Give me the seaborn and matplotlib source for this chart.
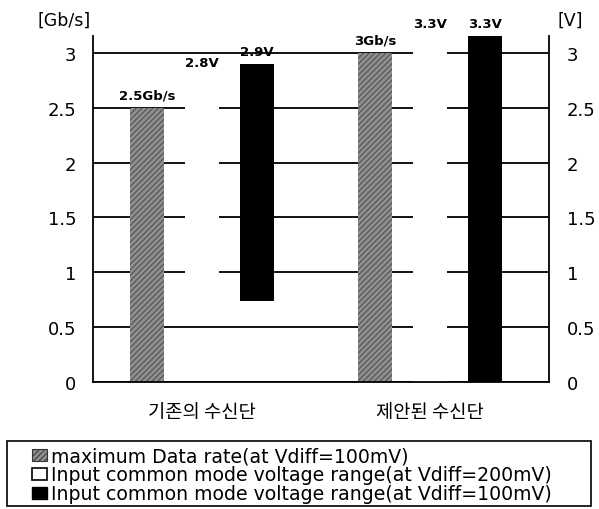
import numpy as np
import pandas as pd
import matplotlib
matplotlib.use("Agg")
import matplotlib.pyplot as plt
import seaborn as sns
from matplotlib.patches import Patch, Rectangle

# ---- data ----
categories = ["기존의 수신단", "제안된 수신단"]
series = ["maximum Data rate(at Vdiff=100mV)",
          "Input common mode voltage range(at Vdiff=200mV)",
          "Input common mode voltage range(at Vdiff=100mV)"]
data_rate_top = [2.5, 3.0]          # Gb/s
data_rate_bottom = [0.0, 0.0]
vcm200_top = [2.8, 3.3]              # V
vcm200_bottom = [0.74, 0.0]
vcm100_top = [2.9, 3.3]              # V
vcm100_bottom = [0.74, 0.0]
units = ["Gb/s", "V", "V"]
yticks = [0, 0.5, 1, 1.5, 2, 2.5, 3]

tops = [data_rate_top, vcm200_top, vcm100_top]
bottoms = [data_rate_bottom, vcm200_bottom, vcm100_bottom]

rows = []
for s, t, b in zip(series, tops, bottoms):
    for c, tv, bv in zip(categories, t, b):
        rows.append({"cat": c, "series": s, "span": tv - bv, "bottom": bv, "top": tv})
df = pd.DataFrame(rows)

sns.set_theme(style="white")
plt.rcParams["font.family"] = ["DejaVu Sans"]
plt.rcParams["hatch.linewidth"] = 0.7
plt.rcParams["text.color"] = "black"
plt.rcParams["xtick.color"] = "black"
plt.rcParams["ytick.color"] = "black"

fig = plt.figure(figsize=(5.99, 5.10), dpi=100)
ax = fig.add_axes([0.1553, 0.249, 0.7613, 0.6775])

palette = {series[0]: "#8e8e8e", series[1]: "#ffffff", series[2]: "#000000"}
sns.barplot(data=df, x="cat", y="span", hue="series", order=categories,
            hue_order=series, palette=palette, errorbar=None, width=0.724,
            gap=0.38, saturation=1, linewidth=0, ax=ax, legend=False, zorder=3)

# shift bars to their bottoms (floating ranges)
ylim_top = 3.15
for i, s in enumerate(series):
    for j, c in enumerate(categories):
        p = ax.patches[i * len(categories) + j]
        p.set_y(bottoms[i][j])
        p.set_height(tops[i][j] - bottoms[i][j])
        if i == 0:
            p.set_hatch("//////")
            p.set_edgecolor("#4a4a4a")
            p.set_linewidth(0)
        ytxt = min(tops[i][j], ylim_top)
        xc = p.get_x() + p.get_width() / 2
        ax.annotate(f"{tops[i][j]:g}{units[i]}", (xc, ytxt), xytext=(0, 9),
                    textcoords="offset points", ha="center", va="center",
                    fontsize=9.5, fontweight="bold", color="black",
                    annotation_clip=False)

ax.set_ylim(0, ylim_top)
ax.set_xlim(-0.478, 1.522)
ax.set_yticks(yticks)
ax.set_yticklabels([f"{v:g}" for v in yticks], fontsize=13)
ax.yaxis.grid(True, color="black", linewidth=1.3, zorder=0)
ax.set_axisbelow(True)
ax.tick_params(axis="y", length=0, pad=12)
ax.tick_params(axis="x", length=0, pad=14)
for lab in ax.get_xticklabels():
    lab.set_fontfamily(["Noto Sans CJK KR", "DejaVu Sans"])
    lab.set_fontsize(13.5)
ax.set_xlabel("")
ax.set_ylabel("")
for sp in ["left", "right", "bottom"]:
    ax.spines[sp].set_visible(True)
    ax.spines[sp].set_color("black")
    ax.spines[sp].set_linewidth(1.3)
    ax.spines[sp].set_zorder(5)
ax.spines["top"].set_visible(False)

# right axis in V
ax2 = ax.twinx()
ax2.set_ylim(ax.get_ylim())
ax2.set_yticks(yticks)
ax2.set_yticklabels([f"{v:g}" for v in yticks], fontsize=13)
ax2.tick_params(axis="y", length=0, pad=13)
ax2.grid(False)
for sp in ax2.spines.values():
    sp.set_visible(False)

fig.text(0.062, 0.96, "[Gb/s]", fontsize=12.5, ha="left", va="center")
fig.text(0.930, 0.96, "[V]", fontsize=12.5, ha="left", va="center")

# legend frame
fig.patches.append(Rectangle((7 / 599, 3 / 510), 584 / 599, 65 / 510,
                             transform=fig.transFigure, facecolor="white",
                             edgecolor="black", linewidth=1.2, zorder=1))
handles = [Patch(facecolor="#8e8e8e", edgecolor="#333333", hatch="//////", linewidth=0.8),
           Patch(facecolor="white", edgecolor="black", linewidth=1.2),
           Patch(facecolor="black", edgecolor="black")]
leg = fig.legend(handles, series, loc="center left",
                 bbox_to_anchor=(32 / 599, 34 / 510),
                 borderaxespad=0, fontsize=13.6, frameon=False,
                 handlelength=0.78, handleheight=0.62,
                 handletextpad=0.2, labelspacing=0.0, borderpad=0.0)
leg.set_zorder(2)

fig.savefig("out.png", dpi=100)
